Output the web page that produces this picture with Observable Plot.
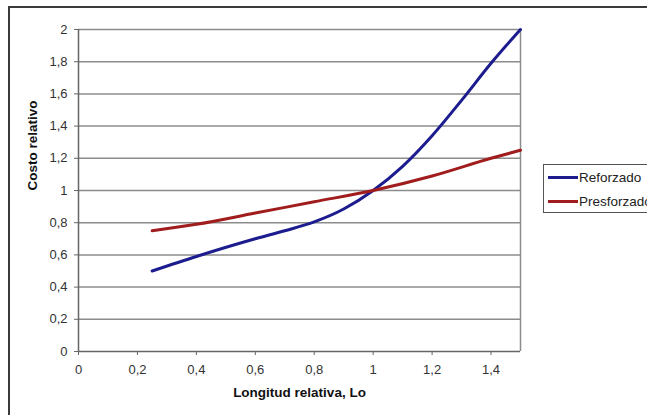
<!DOCTYPE html>
<html>
<head>
<meta charset="utf-8">
<script src="https://cdn.jsdelivr.net/npm/d3@7"></script>
<script src="https://cdn.jsdelivr.net/npm/@observablehq/plot@0.6"></script>
<style>
  html, body { margin: 0; padding: 0; background: #fff; overflow: hidden; width: 647px; height: 415px; }
  #wrap { position: relative; width: 647px; height: 415px; overflow: hidden; font-family: "Liberation Sans", Arial, sans-serif; }
  #frame { position: absolute; left: 8px; top: 6px; width: 700px; height: 500px; border: 2px solid #3a3a3a; box-sizing: border-box; pointer-events: none; }
  #legend { position: absolute; left: 543px; top: 164px; width: 160px; height: 49px; border: 1px solid #555; background: #fff; box-sizing: border-box; font-size: 13.5px; color: #222; }
  .item { position: absolute; left: 4px; display: flex; align-items: center; white-space: nowrap; }
  .sw { width: 30px; height: 3px; margin-right: 1px; }
</style>
</head>
<body>
<div id="wrap"></div>
<script>
// Data
const xReforzado = [0.25, 0.4, 0.6, 0.7, 0.8, 0.9, 1.0, 1.1, 1.2, 1.3, 1.4, 1.5];
const yReforzado = [0.50, 0.59, 0.70, 0.75, 0.805, 0.885, 1.00, 1.15, 1.34, 1.56, 1.79, 2.00];
const xPresforzado = [0.25, 0.4, 0.6, 0.8, 1.0, 1.2, 1.4, 1.5];
const yPresforzado = [0.75, 0.79, 0.86, 0.93, 1.00, 1.09, 1.20, 1.25];
const seriesNames = ["Reforzado", "Presforzado"];
const seriesColors = ["#1c1c8f", "#a11d1d"];
const yTicks = [0, 0.2, 0.4, 0.6, 0.8, 1, 1.2, 1.4, 1.6, 1.8, 2];
const xTicks = [0, 0.2, 0.4, 0.6, 0.8, 1, 1.2, 1.4];
const xTitle = "Longitud relativa, Lo";
const yTitle = "Costo relativo";

const data = [
  ...xReforzado.map((x, i) => ({x, y: yReforzado[i], s: seriesNames[0]})),
  ...xPresforzado.map((x, i) => ({x, y: yPresforzado[i], s: seriesNames[1]}))
];
const fmt = d => String(Math.round(d * 10) / 10).replace(".", ",");

const chart = Plot.plot({
  width: 647,
  height: 415,
  marginLeft: 78,
  marginRight: 127,
  marginTop: 29,
  marginBottom: 64,
  style: { fontFamily: "'Liberation Sans', Arial, sans-serif", fontSize: "13px", color: "#333", background: "transparent" },
  x: { domain: [0, 1.5], axis: null },
  y: { domain: [0, 2], axis: null },
  color: { domain: seriesNames, range: seriesColors },
  marks: [
    Plot.ruleY(yTicks.filter(d => d > 0), { stroke: "#8c8c8c", strokeWidth: 1.5, strokeOpacity: 1 }),
    Plot.ruleX([1.5], { stroke: "#8c8c8c", strokeWidth: 1.5 }),
    Plot.ruleX([0], { stroke: "#666", strokeWidth: 1.5 }),
    Plot.ruleY([0], { stroke: "#666", strokeWidth: 1.5 }),
    Plot.axisY({ ticks: yTicks, tickFormat: fmt, tickSize: 4, tickPadding: 7, stroke: "#666", fill: "#333", fontSize: 13, label: null }),
    Plot.axisX({ ticks: xTicks, tickFormat: fmt, tickSize: 4, tickPadding: 9, stroke: "#666", fill: "#333", fontSize: 13, label: null }),
    Plot.text([yTitle], { frameAnchor: "left", dx: -46, rotate: -90, fontWeight: "bold", fontSize: 13.5, fill: "#111" }),
    Plot.text([xTitle], { frameAnchor: "bottom", dy: 45, fontWeight: "bold", fontSize: 13.5, fill: "#111" }),
    Plot.line(data, { x: "x", y: "y", stroke: "s", z: "s", strokeWidth: 3, curve: "monotone-x" })
  ]
});
const wrap = document.getElementById("wrap");
chart.style.position = "absolute";
chart.style.left = "0";
chart.style.top = "0";
wrap.appendChild(chart);

const frame = document.createElement("div");
frame.id = "frame";
wrap.appendChild(frame);

const legend = document.createElement("div");
legend.id = "legend";
seriesNames.forEach((name, i) => {
  const it = document.createElement("div");
  it.className = "item";
  it.style.top = (i === 0 ? 5 : 29) + "px";
  const sw = document.createElement("div");
  sw.className = "sw";
  sw.style.background = seriesColors[i];
  const t = document.createElement("span");
  t.textContent = name;
  it.appendChild(sw);
  it.appendChild(t);
  legend.appendChild(it);
});
wrap.appendChild(legend);
</script>
</body>
</html>
